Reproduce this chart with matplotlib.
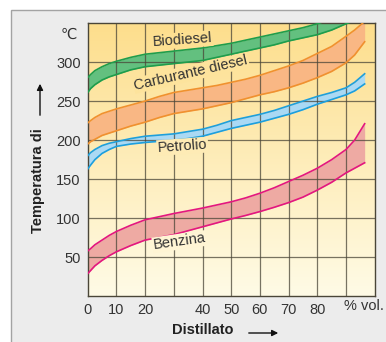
import matplotlib.pyplot as plt
import numpy as np
from matplotlib.patches import Rectangle, FancyArrowPatch

plt.rcParams['font.family'] = ['Liberation Sans', 'DejaVu Sans']

# distillate fraction (% vol.) and boiling ranges (°C)
x = [0, 1, 2.5, 5, 7.5, 10, 15, 20, 25, 30, 35, 40, 45, 50, 55, 60, 65, 70,
     75, 80, 85, 90, 93, 96.5]
bio_hi = [280, 284, 289, 294, 298, 301, 306, 310, 312, 314, 316, 318, 321,
          324, 328, 332, 336, 340, 344, 349, 355, 362, 366, 372]
bio_lo = [261, 266, 271, 277, 281, 284, 290, 294, 296, 298, 300, 302, 306,
          310, 314, 318, 322, 327, 331, 335, 341, 349, 353, 360]
diesel_hi = [222, 225, 229, 234, 237, 240, 245, 250, 256, 261, 264, 267, 270,
             274, 278, 283, 289, 295, 302, 311, 320, 333, 341, 352]
diesel_lo = [195, 198, 201, 206, 209, 212, 218, 223, 229, 234, 237, 240, 244,
             248, 253, 258, 262, 267, 273, 280, 288, 299, 309, 326]
petr_hi = [180, 184, 188, 193, 196, 198, 202, 205, 206.5, 208, 211, 214, 219,
           225, 229, 233, 238, 244, 250, 256, 261, 267, 274, 285]
petr_lo = [163, 168, 175, 183, 188, 192, 195, 197, 198.5, 200, 202, 205, 210,
           215, 219, 223, 228, 233, 239, 246, 252, 258, 263, 272]
benz_hi = [58, 61, 66, 72, 78, 83, 91, 98, 102, 106, 109.5, 113, 117,
           121, 126, 132, 139, 147, 155, 164, 175, 188, 200, 221]
benz_lo = [29, 33, 39, 46, 52, 57, 65, 72, 75.5, 79, 84, 89, 94,
           99, 103.5, 108.5, 114, 120, 127, 136, 146, 158, 164, 171]

xticks = [0, 10, 20, 30, 40, 50, 60, 70, 80]
xticklabels = ['0', '10', '20', '', '40', '50', '60', '70', '80']
yticks = [50, 100, 150, 200, 250, 300]

fig = plt.figure(figsize=(3.86, 3.42), dpi=100)
fig.patch.set_facecolor('white')
fig.add_artist(Rectangle((11 / 386, -0.01), 1.0, (342 - 10) / 342 + 0.01,
                         transform=fig.transFigure, facecolor='#ececec',
                         edgecolor='#a3a3a3', linewidth=1.0, zorder=-5))

ax = fig.add_axes([87.7 / 386, 45.7 / 342, 287 / 386, 273.3 / 342])
ax.set_zorder(2)
ax.set_xlim(0, 100)
ax.set_ylim(0, 350)

# background gradient: warm yellow at the top fading to cream
top = np.array([253, 222, 140]) / 255
bot = np.array([255, 251, 230]) / 255
t = np.linspace(0, 1, 256)[:, None]
grad = (top * (1 - t) + bot * t)[:, None, :]
ax.imshow(grad, extent=[0, 100, 0, 350], aspect='auto', zorder=0)


def bg_at(v):
    f = 1 - v / 350
    return tuple(top * (1 - f) + bot * f)


bands = [
    (bio_lo, bio_hi, '#63c07f', '#1f9d4c'),
    (diesel_lo, diesel_hi, '#f9b784', '#f0912f'),
    (petr_lo, petr_hi, '#aad9f4', '#1d9fdc'),
    (benz_lo, benz_hi, '#eeaaa3', '#e3177f'),
]
for lo, hi, fill, edge in bands:
    ax.fill_between(x, lo, hi, color=fill, linewidth=0, zorder=1)
    ax.plot(x, lo, color=edge, lw=1.2, zorder=3)
    ax.plot(x, hi, color=edge, lw=1.2, zorder=3)

# grid
for gx in range(10, 100, 10):
    ax.axvline(gx, color='#4a4638', lw=0.9, alpha=0.75, zorder=2)
for gy in yticks:
    ax.axhline(gy, color='#4a4638', lw=0.9, alpha=0.75, zorder=2)

labels = [
    ('Biodiesel', 33, 328, 4),
    ('Carburante diesel', 36, 286, 13),
    ('Petrolio', 33, 192, 4),
    ('Benzina', 32, 70, 8),
]
for txt, lx, ly, rot in labels:
    ax.text(lx, ly, txt, fontsize=10.5, color='#333333', rotation=rot,
            ha='center', va='center', rotation_mode='anchor', zorder=4,
            bbox=dict(facecolor=bg_at(ly), edgecolor='none', pad=0.6))

for s in ax.spines.values():
    s.set_color('#4a4638')
    s.set_linewidth(1.0)

ax.set_xticks(xticks)
ax.set_xticklabels(xticklabels)
ax.set_yticks(yticks)
ax.tick_params(length=0, labelsize=10.5, colors='#333333', pad=5)
ax.text(89.3, -4, '% vol.', fontsize=10.5, color='#333333', ha='left', va='top',
        clip_on=False)
ax.text(-6.5, 335, '\u2103', fontsize=10.5, color='#333333',
        ha='center', va='center', clip_on=False)

fig.text(38 / 386, 1 - 181 / 342, 'Temperatura di', rotation=90, fontsize=10.5,
         fontweight='bold', color='#222222', ha='center', va='center')
fig.add_artist(FancyArrowPatch((40 / 386, 1 - 118 / 342), (40 / 386, 1 - 81 / 342),
                               transform=fig.transFigure, arrowstyle='-|>',
                               mutation_scale=9, color='#111111', lw=1.0))
fig.text(203 / 386, 1 - 330 / 342, 'Distillato', fontsize=10.5,
         fontweight='bold', color='#222222', ha='center', va='center')
fig.add_artist(FancyArrowPatch((246 / 386, 1 - 333 / 342), (281 / 386, 1 - 333 / 342),
                               transform=fig.transFigure, arrowstyle='-|>',
                               mutation_scale=9, color='#111111', lw=1.0))

fig.savefig('out.png', dpi=100, facecolor=fig.get_facecolor())
